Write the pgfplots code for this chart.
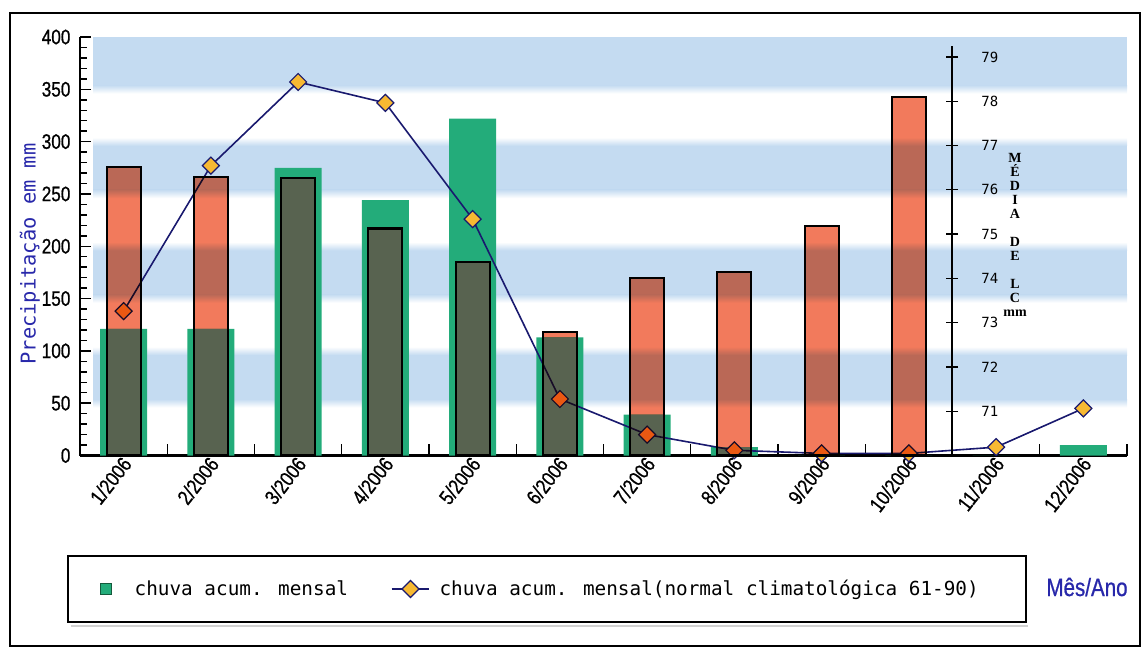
\documentclass[border=0pt]{standalone}
\usepackage{pgfplots}
\pgfplotsset{compat=1.18}
\usepackage{pgfplotstable}
\usepackage{fontspec}
\setmainfont{Liberation Sans}
\newfontfamily\estreita{Liberation Sans}[FakeStretch=0.82, FakeBold=0.8]
\newfontfamily\mono{DejaVu Sans Mono}
\newfontfamily\serifa{Liberation Serif}

\definecolor{verde}{RGB}{35,172,122}
\definecolor{verdeborda}{RGB}{20,90,60}
\definecolor{laranja}{RGB}{242,122,92}
\definecolor{sobreposto}{RGB}{93,209,222}
\definecolor{faixa}{RGB}{196,219,241}
\definecolor{ouro}{RGB}{247,185,50}
\definecolor{linha}{RGB}{25,25,110}
\definecolor{azul}{RGB}{40,40,170}

\pgfplotsset{
  legenda barra/.style={legend image code/.code={
    \path[draw=verdeborda, fill=verde, line width=0.6pt, fill opacity=1]
      (0pt,-3.9pt) rectangle (7.8pt,3.9pt);
    \path[draw=none, fill=none] (0pt,0pt) rectangle (25.5pt,0.1pt);}},
  legenda linha/.style={legend image code/.code={
    \draw[mark repeat=2, mark phase=2, ##1] plot coordinates {(0pt,0pt) (14.2pt,0pt) (28.4pt,0pt)};
    \path[draw=none, fill=none] (0pt,0pt) rectangle (36pt,0.1pt);}},
}

% mes: 0 = 1/2006 ... 11 = 12/2006
\pgfplotstableread{
mes chuva normal lc
0  121 138 276
1  121 277 266
2  275 357 265
3  244 337 217
4  322 226 185
5  113  54 118
6   39  20 170
7    8   5 175
8    0   2 219
9    0   2 343
10   0   8   0
11  10  45   0
}\dados
% part of each month where the two bars overlap
\pgfplotstablecreatecol[create col/expr={min(\thisrow{chuva},\thisrow{lc})}]{sob}\dados

\begin{document}
\begin{tikzpicture}
\useasboundingbox (0pt,0pt) rectangle (855.75pt,-486.75pt);
% outer frame
\draw[line width=1.5pt] (7.5pt,-9.75pt) rectangle (855pt,-484.5pt);
% legend frame
\draw[gray!35, line width=1.2pt] (53pt,-469.6pt) -- (771pt,-469.6pt);
\draw[line width=1.8pt, fill=white] (51pt,-417pt) rectangle (769.5pt,-466.5pt);

\begin{axis}[
  at={(60pt,-341.625pt)}, anchor=south west,
  scale only axis, width=785.25pt, height=313.875pt,
  xmin=-0.5, xmax=11.5, ymin=0, ymax=400,
  clip=false, clip marker paths=true,
  axis x line*=bottom, axis y line*=left,
  every outer x axis line/.append style={-},
  every outer y axis line/.append style={-},
  axis line style={line width=1.7pt},
  tick align=inside,
  major tick length=8.5pt, minor tick length=5pt,
  tick style={black, line width=1.1pt},
  xtick={0.5,1.5,...,11.5}, xticklabels={},
  extra x ticks={0,1,2,3,4,5,6,7,8,9,10,11},
  extra x tick labels={1/2006,2/2006,3/2006,4/2006,5/2006,6/2006,7/2006,8/2006,9/2006,10/2006,11/2006,12/2006},
  extra x tick style={major tick length=0pt},
  xticklabel style={rotate=52, anchor=east, inner sep=1pt, yshift=-4pt,
    font=\estreita\fontsize{15.7}{16}\selectfont},
  ytick={0,50,...,400}, minor y tick num=4,
  yticklabel style={font=\estreita\fontsize{15.7}{16}\selectfont, inner sep=2pt, xshift=-5pt},
  /pgf/number format/assume math mode=true,
  ylabel={Precipitação em mm},
  ylabel style={at={(axis description cs:-0.0478,0.4815)}, anchor=center,
    font=\mono\fontsize{15.3}{16}\selectfont, text=azul},
  legend columns=2,
  legend style={draw=none, fill=none, inner sep=0pt,
    at={(axis description cs:0.0191,-0.319)}, anchor=west,
    font=\mono\fontsize{14.5}{16}\selectfont,
    nodes={inner xsep=0pt, inner ysep=2pt},
    /tikz/every even column/.append style={column sep=32pt}},
]
% light blue bands behind the bars
\fill[faixa] (axis cs:-0.35,54) rectangle (axis cs:11.5,96);
\shade[bottom color=white, top color=faixa] (axis cs:-0.35,46) rectangle (axis cs:11.5,54);
\shade[top color=white, bottom color=faixa] (axis cs:-0.35,96) rectangle (axis cs:11.5,104);
\fill[faixa] (axis cs:-0.35,154) rectangle (axis cs:11.5,196);
\shade[bottom color=white, top color=faixa] (axis cs:-0.35,146) rectangle (axis cs:11.5,154);
\shade[top color=white, bottom color=faixa] (axis cs:-0.35,196) rectangle (axis cs:11.5,204);
\fill[faixa] (axis cs:-0.35,254) rectangle (axis cs:11.5,296);
\shade[bottom color=white, top color=faixa] (axis cs:-0.35,246) rectangle (axis cs:11.5,254);
\shade[top color=white, bottom color=faixa] (axis cs:-0.35,296) rectangle (axis cs:11.5,304);
\fill[faixa] (axis cs:-0.35,354) rectangle (axis cs:11.5,400);
\shade[bottom color=white, top color=faixa] (axis cs:-0.35,346) rectangle (axis cs:11.5,354);

\addplot[ybar, bar width=0.54, fill=verde, draw=none, legenda barra]
  table[x=mes, y=chuva]{\dados};
\addlegendentry{chuva acum. mensal}

\addplot[ybar, bar width=0.39, fill=sobreposto, draw=none, forget plot,
  restrict y to domain=0.5:1000]
  table[x=mes, y=sob]{\dados};

\addplot[linha, line width=1.2pt, mark=square*, mark size=4.5pt,
  mark options={rotate=45, fill=ouro, draw=linha, line width=0.9pt},
  legenda linha]
  table[x=mes, y=normal]{\dados};
\addlegendentry{chuva acum. mensal(normal climatológica 61-90)}

\addplot[ybar, bar width=0.39, fill=laranja, draw=black, line width=1.6pt,
  blend mode=multiply, forget plot, restrict y to domain=0.5:1000]
  table[x=mes, y=lc]{\dados};
\end{axis}

% secondary scale
\begin{axis}[
  at={(60pt,-341.625pt)}, anchor=south west,
  scale only axis, width=654pt, height=307.2pt,
  xmin=0, xmax=1, ymin=70, ymax=79.25,
  axis x line=none, axis y line=right,
  every outer y axis line/.append style={-},
  axis line style={line width=1.3pt},
  ytick={71,72,...,79}, tick align=center, major tick length=9pt,
  tick style={black, line width=1pt},
  yticklabel style={font=\mono\fontsize{10.5}{11}\selectfont, anchor=west, xshift=14pt},
  /pgf/number format/assume math mode=true,
]
\end{axis}

\node[align=center, inner sep=0pt, font=\serifa\bfseries\fontsize{10.5}{10.5}\selectfont]
  at (761.25pt,-176.25pt) {M\\É\\D\\I\\A\\\mbox{}\\D\\E\\\mbox{}\\L\\C\\mm};
\node[inner sep=0pt, text=azul, font=\estreita\fontsize{18.8}{20}\selectfont]
  at (815.25pt,-440.25pt) {Mês/Ano};
\end{tikzpicture}
\end{document}
